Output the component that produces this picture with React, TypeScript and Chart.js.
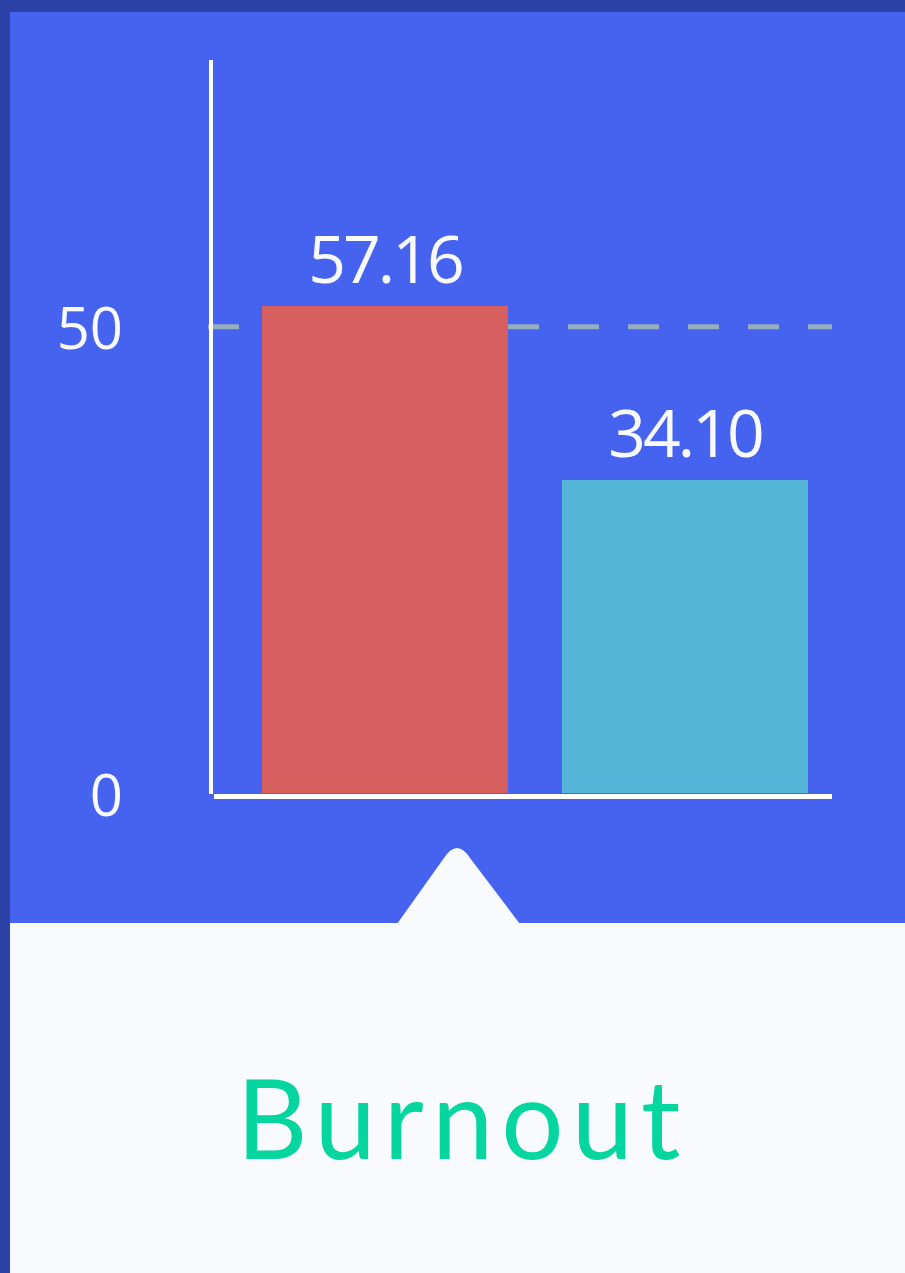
import React, { useEffect, useRef } from 'react';
import { Chart, registerables } from 'chart.js';

Chart.register(...registerables);

// ---- data ----
const categories = ['Group 1', 'Group 2'];
const values = [57.16, 34.1];
const barColors = ['#D65F5F', '#55B5D8'];
const tickValues = [0, 50];
const referenceValue = 50;
const title = 'Burnout';

// scale ranges (tick axis and bar axis of the infographic)
const tickAxisMax = 78.6;
const barAxisMin = -7.38;
const barAxisMax = 89.77;

export default function App() {
  const ref = useRef<HTMLCanvasElement>(null);

  useEffect(() => {
    document.body.style.margin = '0';
    const canvas = ref.current!;

    const overlay = {
      id: 'overlay',
      beforeDatasetsDraw(chart: any) {
        const { ctx, chartArea, scales } = chart;
        const y = scales.y.getPixelForValue(referenceValue);
        ctx.save();
        ctx.strokeStyle = '#95AFC0';
        ctx.lineWidth = 5;
        ctx.setLineDash([31, 29]);
        ctx.beginPath();
        ctx.moveTo(chartArea.left - 27, y);
        ctx.lineTo(chartArea.right - 3, y);
        ctx.stroke();
        ctx.restore();
      },
      afterDatasetsDraw(chart: any) {
        const { ctx, chartArea } = chart;
        ctx.save();
        // axis lines
        ctx.fillStyle = '#FFFFFF';
        ctx.fillRect(chartArea.left - 26, chartArea.top, 4, chartArea.bottom - chartArea.top + 1);
        ctx.fillRect(chartArea.left - 21, chartArea.bottom + 1, 618, 5);
        // value labels
        const meta = chart.getDatasetMeta(0);
        ctx.fillStyle = '#F8FAFE';
        ctx.font = "400 66px 'Open Sans'";
        (ctx as any).letterSpacing = '-3px';
        ctx.textAlign = 'center';
        ctx.textBaseline = 'alphabetic';
        meta.data.forEach((bar: any, i: number) => {
          ctx.fillText(values[i].toFixed(2), bar.x, bar.y - 23);
        });
        ctx.restore();
      },
    };

    const chart = new Chart(canvas, {
      type: 'bar',
      data: {
        labels: categories,
        datasets: [
          {
            data: values,
            backgroundColor: barColors,
            borderWidth: 0,
            yAxisID: 'yb',
            base: barAxisMin,
            barPercentage: 0.82,
            categoryPercentage: 1,
          } as any,
        ],
      },
      options: {
        responsive: false,
        animation: false,
        devicePixelRatio: 1,
        events: [],
        layout: { padding: { left: 0, top: 60, right: 70, bottom: 130 } },
        plugins: { legend: { display: false }, tooltip: { enabled: false } },
        scales: {
          x: { type: 'category', display: false, offset: true },
          y: {
            type: 'linear',
            position: 'left',
            min: 0,
            max: tickAxisMax,
            grid: { display: false, drawTicks: false },
            border: { display: false },
            ticks: {
              color: '#F8FAFE',
              font: { family: 'Open Sans', size: 58, weight: 400 as any },
              padding: 112,
              labelOffset: 6,
            },
            afterBuildTicks: (s: any) => {
              s.ticks = tickValues.map((v) => ({ value: v }));
            },
            afterFit: (s: any) => {
              s.width = 235;
              s.paddingTop = 0;
              s.paddingBottom = 0;
            },
          },
          yb: {
            type: 'linear',
            display: false,
            min: barAxisMin,
            max: barAxisMax,
          },
        },
      },
      plugins: [overlay],
    });

    return () => chart.destroy();
  }, []);

  return (
    <div
      style={{
        position: 'fixed',
        left: 0,
        top: 0,
        width: 905,
        height: 1273,
        background: '#2B41A6',
        overflow: 'hidden',
      }}
    >
      <div style={{ position: 'absolute', left: 10, top: 12, width: 895, height: 911, background: '#4563EF' }} />
      <div style={{ position: 'absolute', left: 10, top: 923, width: 895, height: 350, background: '#F8FAFE' }} />
      <svg
        width={905}
        height={1273}
        style={{ position: 'absolute', left: 0, top: 0 }}
      >
        <path d="M397 924 L444 858 Q457 838 470 858 L520 924 Z" fill="#F8FAFE" />
      </svg>
      <canvas ref={ref} width={905} height={923} style={{ position: 'absolute', left: 0, top: 0 }} />
      <div
        style={{
          position: 'absolute',
          left: 10,
          top: 1061,
          width: 905,
          textAlign: 'center',
          fontFamily: 'Lato, sans-serif',
          fontSize: 110,
          lineHeight: '110px',
          color: '#05D6A0',
          letterSpacing: 8,
        }}
      >
        {title}
      </div>
    </div>
  );
}
